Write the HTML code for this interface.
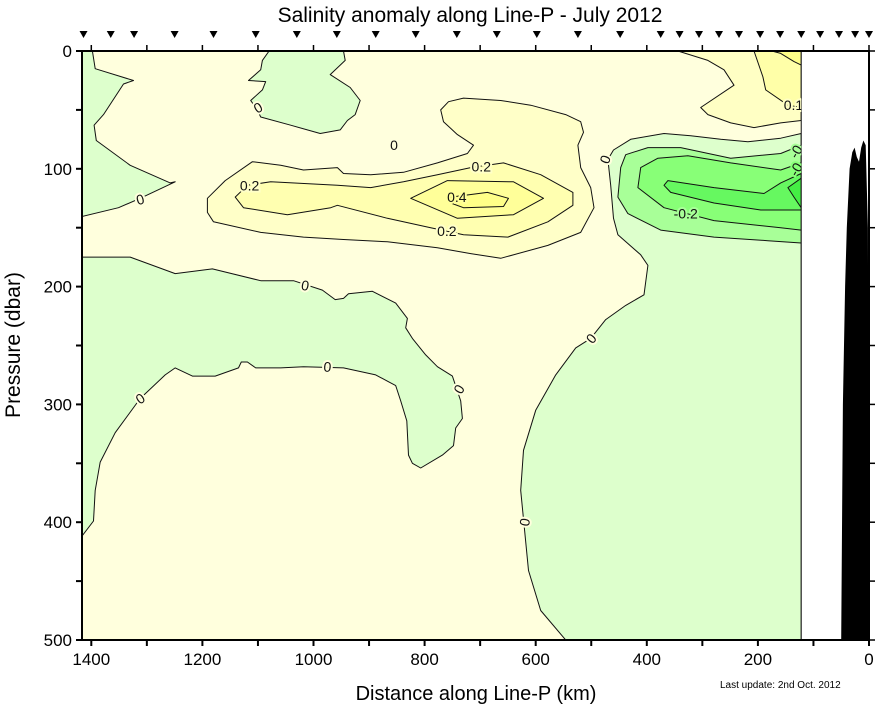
<!DOCTYPE html>
<html><head><meta charset="utf-8"><style>
html,body{margin:0;padding:0;background:#fff;}
svg{display:block;font-family:"Liberation Sans",Arial,sans-serif;}
</style></head><body>
<svg id="chart" width="878" height="708" viewBox="0 0 878 708">
<text x="470" y="22" text-anchor="middle" font-size="21">Salinity anomaly along Line-P - July 2012</text>
<g id="plot"></g>
<g id="axes"></g>
<text x="20" y="345" text-anchor="middle" font-size="21" transform="rotate(-90 20 345)">Pressure (dbar)</text>
<text x="476" y="700" text-anchor="middle" font-size="20">Distance along Line-P (km)</text>
<text x="720" y="688" font-size="10">Last update: 2nd Oct. 2012</text>
</svg>
<script>
// ---- data ----
const stationsKm = [1414,1365,1323,1250,1180,1104,1030,958,888,816,742,670,598,524,448,375,341,306,270,234,196,160,122,88,54,25,0];
const xTicks = [0,200,400,600,800,1000,1200,1400];
const yTicks = [0,100,200,300,400,500];
const dataEdgeKm = 122;
const bathymetry = [[50,500],[47,300],[43,200],[40,150],[35,100],[30,86],[26,82],[22,90],[18,94],[14,82],[10,76],[6,80],[2,150],[0,500]];
const greenTopLeft = [[1430,0],[1398,0],[1393,15],[1324,25],[1342,28],[1378,54],[1395,63],[1391,76],[1330,97],[1258,112],[1249,111],[1312,125],[1351,133],[1430,142]];
const greenTopMid = [[1080,0],[1092,8],[1095,16],[1117,25],[1086,26],[1092,33],[1113,42],[1101,50],[1095,56],[1041,63],[988,70],[952,67],[939,59],[925,54],[916,42],[934,31],[970,20],[943,8],[946,0]];
const greenLower = [[1430,175],[1330,175],[1249,189],[1182,185],[1095,195],[1036,195],[984,203],[961,211],[946,210],[937,206],[894,204],[852,214],[831,227],[834,235],[822,244],[798,258],[777,268],[750,276],[735,297],[732,312],[744,320],[748,335],[768,343],[807,354],[822,350],[829,343],[832,314],[843,297],[852,284],[888,275],[946,269],[1018,268],[1059,269],[1104,269],[1119,264],[1130,264],[1135,269],[1177,276],[1218,276],[1249,269],[1267,275],[1312,295],[1357,324],[1384,349],[1393,373],[1396,399],[1430,420]];
const greenRight0 = [[122,70],[159,74],[218,77],[267,75],[321,72],[369,70],[429,75],[460,84],[470,92],[465,114],[460,142],[452,156],[411,173],[398,182],[405,207],[438,216],[474,228],[501,244],[528,252],[564,275],[600,305],[622,339],[627,373],[620,407],[613,441],[591,475],[546,500],[122,500]];
const greenRight1 = [[122,80],[159,87],[249,91],[339,82],[398,82],[438,88],[447,99],[452,124],[434,138],[375,152],[279,158],[182,161],[122,163]];
const greenRight2 = [[122,95],[159,101],[249,95],[326,89],[380,91],[411,99],[416,116],[369,133],[279,144],[159,150],[122,152]];
const greenRight3 = [[122,104],[159,112],[189,121],[279,116],[362,110],[369,114],[357,120],[279,129],[195,135],[122,135]];
const greenRight4 = [[122,108],[146,116],[135,124],[122,133]];
const warmTR1 = [[344,0],[290,8],[261,16],[243,29],[303,48],[290,54],[249,61],[207,65],[159,61],[122,59],[122,0]];
const warmTR2 = [[207,0],[191,22],[186,33],[146,46],[122,48],[122,0]];
const warmTR3 = [[175,0],[159,2],[135,9],[122,12],[122,0]];
const warmB1 = [[1110,94],[1059,97],[1018,101],[957,99],[946,104],[897,105],[838,103],[777,95],[723,87],[712,80],[741,71],[766,60],[771,50],[757,43],[730,40],[663,42],[609,46],[546,54],[519,60],[514,69],[524,80],[519,99],[501,116],[495,133],[519,154],[578,165],[663,176],[717,172],[777,167],[867,162],[946,160],[1018,158],[1095,154],[1180,145],[1191,137],[1191,125],[1159,110]];
const warmB2 = [[1141,124],[1119,114],[1077,111],[957,114],[897,116],[838,111],[777,105],[717,99],[658,95],[591,105],[533,120],[533,131],[578,145],[650,158],[730,156],[789,150],[867,142],[957,131],[969,133],[1047,139],[1126,133]];
const warmB3 = [[825,125],[759,110],[640,111],[586,125],[640,139],[741,142]];
const warmB4 = [[753,124],[687,120],[649,125],[658,132],[730,133],[753,129]];
const contourLabels = [[1312,126,"0",-15,"#FFFFDD"],[1015,199,"0",10,"#FFFFDD"],[975,268,"0",5,"#FFFFDD"],[1312,295,"0",-35,"#FFFFDD"],[738,287,"0",-60,"#FFFFDD"],[1100,48,"0",-30,"#FFFFDD"],[855,80,"0",0,"#FFFFDD"],[1115,114,"0.2",0,"#FFFFC8"],[698,98,"0.2",0,"#FFFFC8"],[742,124,"0.4",0,"#FFFF99"],[760,153,"0.2",0,"#FFFFC8"],[475,92,"0",-70,"#FFFFDD"],[500,244,"0",-50,"#FFFFDD"],[620,400,"0",-80,"#FFFFDD"],[330,138,"-0.2",0,"#A8FF98"],[136,46,"0.1",0,"#FFFFC4"],[130,84,"-0.",-60,"#A8FF98"],[130,99,"-0.",-60,"#88FF77"]];

// ---- axes ----
const X0 = 869, KPX = 0.5555, Y0 = 51, DPX = 1.178;
const xs = km => X0 - km * KPX;
const ys = d => Y0 + d * DPX;
const NS = "http://www.w3.org/2000/svg";
const plot = document.getElementById('plot');
const axes = document.getElementById('axes');
function mk(tag, attrs, parent){const e=document.createElementNS(NS,tag);for(const k in attrs)e.setAttribute(k,attrs[k]);parent.appendChild(e);return e;}
const LEFT = 82, RIGHT = 869, TOP = 51, BOT = 640;

const defs = mk('defs',{},plot);
const cp = mk('clipPath',{id:'dclip'},defs);
mk('rect',{x:LEFT,y:TOP,width:xs(dataEdgeKm)-LEFT,height:BOT-TOP},cp);

const bg = mk('rect',{x:LEFT,y:TOP,width:xs(dataEdgeKm)-LEFT,height:BOT-TOP,fill:'#FFFFDD'},plot);



const g = mk('g',{'clip-path':'url(#dclip)'},plot);
function poly(pts, fill, name){
  const d = pts.map((p,i)=>(i?'L':'M')+xs(p[0]).toFixed(1)+' '+ys(p[1]).toFixed(1)).join(' ')+' Z';
  const e = mk('path',{d:d,fill:fill,stroke:'#111','stroke-width':1,'stroke-linejoin':'round'},g);
  
  
}
poly(greenTopLeft,'#DDFFCC','contour-region-topleft-negative');
poly(greenTopMid,'#DDFFCC','contour-region-topmid-negative');
poly(greenLower,'#DDFFCC','contour-region-lower-negative');
poly(greenRight0,'#DDFFCC','contour-region-right-0');
poly(greenRight1,'#A8FF98','contour-region-right-minus01');
poly(greenRight2,'#88FF77','contour-region-right-minus02');
poly(greenRight3,'#66F860','contour-region-right-minus03');
poly(greenRight4,'#44EE44','contour-region-right-minus04');
poly(warmTR1,'#FFFFC4','contour-region-topright-01');
poly(warmTR2,'#FFFFA8','contour-region-topright-02');
poly(warmTR3,'#FFFF88','contour-region-topright-03');
poly(warmB1,'#FFFFC8','contour-region-mid-01');
poly(warmB2,'#FFFFB0','contour-region-mid-02');
poly(warmB3,'#FFFF99','contour-region-mid-03');
poly(warmB4,'#FFFF88','contour-region-mid-04');
mk('line',{x1:xs(dataEdgeKm),y1:TOP,x2:xs(dataEdgeKm),y2:BOT,stroke:'#111','stroke-width':1},plot);

const lg = mk('g',{'clip-path':'url(#dclip)'},plot);
contourLabels.forEach(l=>{
  const x=xs(l[0]), y=ys(l[1]);
  const t = mk('text',{x:x,y:y+5,'text-anchor':'middle','font-size':14,fill:'#111',stroke:l[4],'stroke-width':4,'paint-order':'stroke',transform:`rotate(${l[3]} ${x} ${y})`},lg);
  t.textContent = l[2];
  
  
});

const bd = bathymetry.map((p,i)=>(i?'L':'M')+xs(p[0]).toFixed(1)+' '+ys(p[1]).toFixed(1)).join(' ')+' Z';
const bath = mk('path',{d:bd,fill:'#000'},plot);



// frame
mk('line',{x1:LEFT,y1:TOP,x2:RIGHT,y2:TOP,stroke:'#000','stroke-width':2},axes);
mk('line',{x1:LEFT,y1:BOT,x2:RIGHT,y2:BOT,stroke:'#000','stroke-width':2},axes);
mk('line',{x1:LEFT,y1:TOP-1,x2:LEFT,y2:BOT+1,stroke:'#000','stroke-width':2},axes);
mk('line',{x1:RIGHT,y1:TOP-1,x2:RIGHT,y2:BOT+1,stroke:'#000','stroke-width':2},axes);
for(let km=0; km<=1400; km+=100){
  const x = xs(km);
  mk('line',{x1:x,y1:BOT,x2:x,y2:BOT+6,stroke:'#000','stroke-width':2},axes);
  mk('line',{x1:x,y1:TOP,x2:x,y2:TOP-6,stroke:'#000','stroke-width':1.5},axes);
}
xTicks.forEach(v=>{
  const t = mk('text',{x:xs(v),y:BOT+25,'text-anchor':'middle','font-size':17},axes);
  t.textContent = v;
  
  
});
for(let d=0; d<=500; d+=50){
  const y = ys(d);
  mk('line',{x1:LEFT-6,y1:y,x2:LEFT,y2:y,stroke:'#000','stroke-width':2},axes);
  mk('line',{x1:RIGHT,y1:y,x2:RIGHT+6,y2:y,stroke:'#000','stroke-width':1.5},axes);
}
yTicks.forEach(v=>{
  const t = mk('text',{x:LEFT-10,y:ys(v)+6,'text-anchor':'end','font-size':17},axes);
  t.textContent = v;
  
  
});
stationsKm.forEach(km=>{
  const x = xs(km);
  const s = mk('path',{d:`M${x-4} 31 L${x+4} 31 L${x} 38 Z`,fill:'#000'},axes);
  
  
});
</script>
</body></html>
